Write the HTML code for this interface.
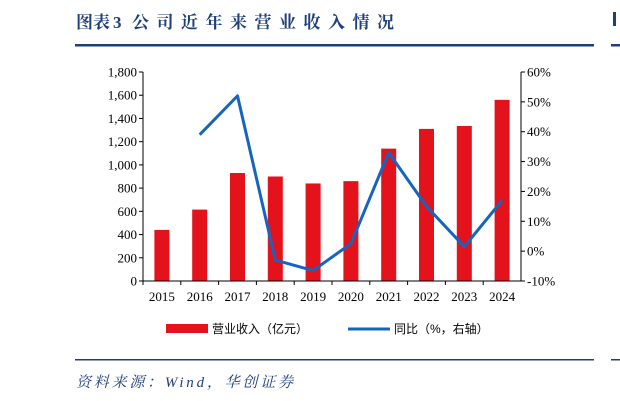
<!DOCTYPE html><html><head><meta charset="utf-8"><style>
body{margin:0;width:620px;height:401px;background:#fff;overflow:hidden;font-family:"Liberation Serif","Noto Serif CJK SC",serif}
</style></head><body>
<svg width="620" height="401" style="position:absolute;left:0;top:0">
<g font-size="17" font-weight="bold" fill="#1f3f7a" font-family="Liberation Serif,Noto Serif CJK SC,serif">
<text x="76" y="28">图表</text>
<text x="113" y="28">3</text>
<text x="132" y="28" textLength="262" lengthAdjust="spacing">公司近年来营业收入情况</text>
</g>
<rect x="75" y="44" width="519" height="2.5" fill="#1f3f7a"/>
<rect x="611" y="44" width="9" height="2.5" fill="#1f3f7a"/>
<rect x="613" y="12" width="3" height="14" fill="#1f3f7a"/>
<g id="plot"></g>
<g>
<rect x="166" y="324" width="42" height="9" fill="#e3121b"/>
<text x="212" y="333" font-size="12" font-family="Liberation Sans,Noto Sans CJK SC,sans-serif">营业收入（亿元）</text>
<line x1="348" y1="329" x2="390" y2="329" stroke="#1565c0" stroke-width="3"/>
<text x="394" y="333" font-size="12" font-family="Liberation Sans,Noto Sans CJK SC,sans-serif">同比（%，右轴）</text>
</g>
<rect x="75" y="359" width="519" height="1.5" fill="#1f3f7a"/>
<rect x="611" y="359" width="9" height="1.5" fill="#1f3f7a"/>
<text x="76" y="387" font-size="15" font-style="italic" fill="#1f3f7a" font-family="Liberation Serif,Noto Serif CJK SC,serif" textLength="217" lengthAdjust="spacing">资料来源：Wind，华创证券</text>
</svg>
<script>
const categories=["2015","2016","2017","2018","2019","2020","2021","2022","2023","2024"];
const revenue=[440,615,930,900,840,860,1140,1310,1335,1560];
const yoy=[null,39,52,-3,-6.5,2.5,33,15,1.5,17];
const leftTicks=[0,200,400,600,800,1000,1200,1400,1600,1800];
const rightTicks=[-10,0,10,20,30,40,50,60];
const L=143,R=521,T=72,B=281,NS="http://www.w3.org/2000/svg";
const g=document.getElementById('plot');
const yL=v=>B-(v/1800)*(B-T);
const yR=v=>B-((v+10)/70)*(B-T);
const cw=(R-L)/categories.length;
const xC=i=>L+cw*(i+0.5);
function el(t,a){const e=document.createElementNS(NS,t);for(const k in a)e.setAttribute(k,a[k]);g.appendChild(e);return e;}
revenue.forEach((v,i)=>{const r=el('rect',{x:xC(i)-7.5,y:yL(v),width:15,height:B-yL(v),fill:'#e3121b'});

});
let ax=el('line',{x1:L,y1:T,x2:L,y2:B,stroke:'#000'});


ax=el('line',{x1:R,y1:T,x2:R,y2:B,stroke:'#000'});


ax=el('line',{x1:L,y1:B,x2:R,y2:B,stroke:'#000'});


leftTicks.forEach(v=>{el('line',{x1:L-4,y1:yL(v),x2:L,y2:yL(v),stroke:'#000'});
const t=el('text',{x:L-6,y:yL(v)+4.5,'text-anchor':'end','font-size':13});t.textContent=v.toLocaleString('en-US');

});
rightTicks.forEach(v=>{el('line',{x1:R,y1:yR(v),x2:R+4,y2:yR(v),stroke:'#000'});
const t=el('text',{x:R+6,y:yR(v)+4.5,'font-size':13});t.textContent=v+'%';

});
categories.forEach((c,i)=>{el('line',{x1:L+cw*i,y1:B,x2:L+cw*i,y2:B+4,stroke:'#000'});
const t=el('text',{x:xC(i),y:B+20,'text-anchor':'middle','font-size':13});t.textContent=c;

});
const pts=yoy.map((v,i)=>v==null?null:xC(i)+','+yR(v)).filter(p=>p);
const pl=el('polyline',{points:pts.join(' '),fill:'none',stroke:'#1565c0','stroke-width':3,'stroke-linejoin':'round'});


</script>
</body></html>
